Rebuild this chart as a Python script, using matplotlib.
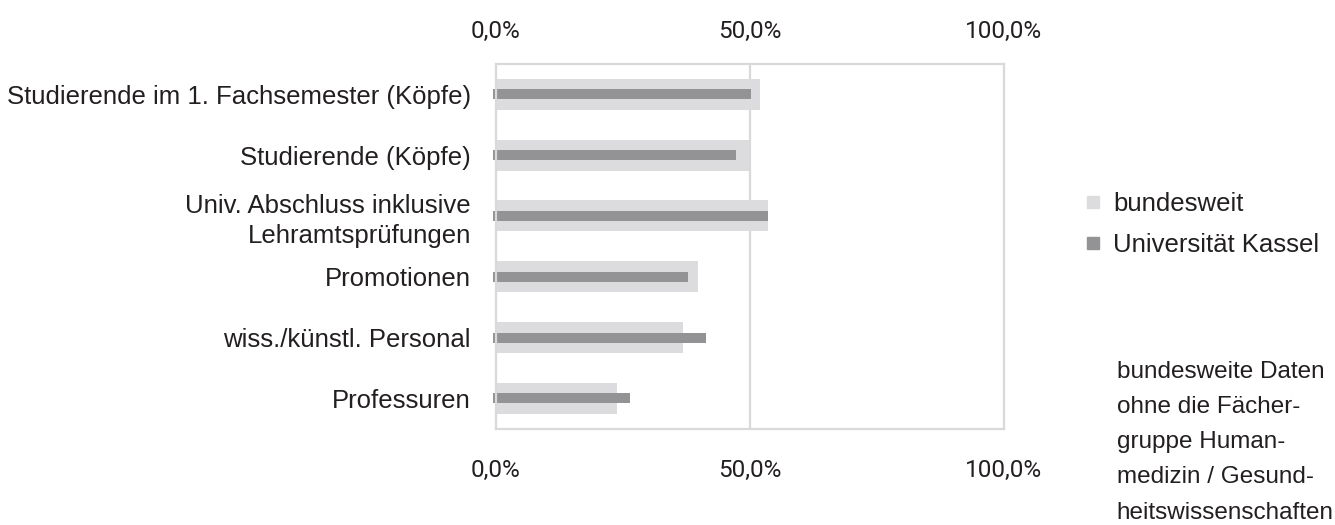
import matplotlib
matplotlib.use("Agg")
import matplotlib.pyplot as plt
from matplotlib.lines import Line2D
import numpy as np

# data
categories = ["Studierende im 1. Fachsemester (Köpfe)",
              "Studierende (Köpfe)",
              "Univ. Abschluss inklusive\nLehramtsprüfungen",
              "Promotionen",
              "wiss./künstl. Personal",
              "Professuren"]
bundesweit = [52.0, 49.9, 53.5, 39.8, 36.8, 23.8]
kassel = [50.2, 47.2, 53.5, 37.8, 41.3, 26.4]
series = ["bundesweit", "Universität Kassel"]
xticks = [0, 50, 100]
xticklabels = ["0,0%", "50,0%", "100,0%"]
note = ("bundesweite Daten\nohne die Fächer-\ngruppe Human-\n"
        "medizin / Gesund-\nheitswissenschaften")

c_bund = "#dcdcde"
c_kas = "#939396"
c_frame = "#d9d9d9"
c_text = "#231f20"

plt.rcParams["font.family"] = ["Liberation Sans", "DejaVu Sans"]

fig = plt.figure(figsize=(13.35, 5.25), dpi=100)
ax = fig.add_axes([0.3715, 0.1834, 0.3805, 0.6946])

y = np.arange(len(categories))
ax.barh(y, bundesweit, height=0.51, color=c_bund, zorder=2)
ax.barh(y, kassel, height=0.165, color=c_kas, zorder=3)

ax.set_xlim(0, 100)
ax.set_ylim(len(categories) - 0.5, -0.5)
ax.set_yticks(y)
ax.set_yticklabels(categories, fontsize=18.5, color=c_text, ha="right",
                   multialignment="right", linespacing=1.3)
ax.tick_params(axis="y", direction="out", length=2, width=7.2, color=c_kas, pad=16)

# bottom ticks
ax.set_xticks(xticks)
ax.set_xticklabels(xticklabels, fontsize=17.5, color=c_text, family="Roboto")
ax.tick_params(axis="x", length=0, pad=22)

# top ticks
top = ax.secondary_xaxis("top")
top.set_xticks(xticks)
top.set_xticklabels(xticklabels, fontsize=17.5, color=c_text, family="Roboto")
top.tick_params(axis="x", length=0, pad=15)
top.spines["top"].set_visible(False)

ax.axvline(50, color=c_frame, lw=1.6, zorder=1)
for s in ax.spines.values():
    s.set_color(c_frame)
    s.set_linewidth(1.6)
    s.set_zorder(4)

handles = [Line2D([], [], ls="none", marker="s", markersize=8, color=c)
           for c in (c_bund, c_kas)]
fig.legend(handles, series, loc="upper left", bbox_to_anchor=(0.7955, 0.678),
           frameon=False, fontsize=18.5, handlelength=0.6,
           handletextpad=0.5, labelspacing=0.65, labelcolor=c_text)

fig.text(0.8365, 0.312, note, fontsize=17.5, color=c_text, va="top",
         ha="left", linespacing=1.77)

fig.savefig("out.png", dpi=100)
